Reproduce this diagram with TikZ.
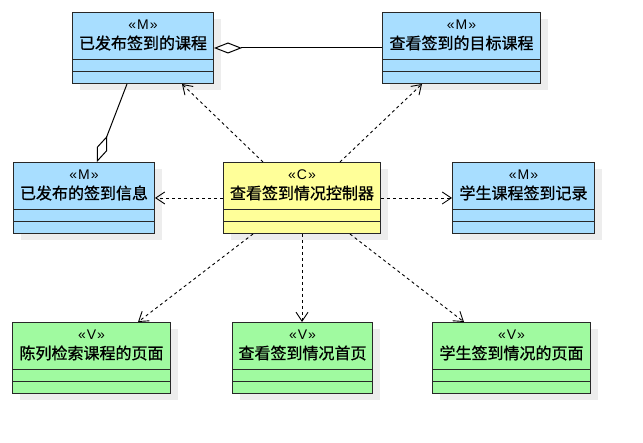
\documentclass[tikz,border=0pt]{standalone}
\usepackage{fontspec}
\newfontfamily\cjk[BoldFont=Noto Sans CJK SC, BoldFeatures={FakeBold=0.9}]{Noto Sans CJK SC}
\newfontfamily\lat{Liberation Sans}
\usetikzlibrary{arrows.meta,shadows,calc}
\definecolor{mblue}{RGB}{168,222,255}
\definecolor{cyellow}{RGB}{255,255,153}
\definecolor{vgreen}{RGB}{160,250,160}
\definecolor{edge}{RGB}{40,40,40}
\tikzset{
  cls/.style={draw=edge, line width=1pt, anchor=north west, minimum height=71pt, inner sep=0pt,
    drop shadow={shadow xshift=7pt, shadow yshift=-7pt, fill=black, opacity=0.07}},
  stereo/.style={font=\lat\fontsize{14}{16}\selectfont, inner sep=0pt},
  cname/.style={font=\cjk\bfseries\fontsize{16}{18}\selectfont, inner sep=0pt},
  divider/.style={draw=edge, line width=1pt},
  dep/.style={draw=black, line width=0.9pt, dash pattern=on 3pt off 3pt, -{Straight Barb[length=9pt,width=12pt]}},
  aggr/.style={draw=black, line width=1pt, -{Diamond[open,length=28pt,width=11pt,fill=white]}}
}
\newcommand{\umlcls}[7]{%
  \node[cls, fill=#5, minimum width=#4pt] (#1) at (#2,#3) {};
  \node[stereo] at ([yshift=-13pt]#1.north) {«\kern1pt#6\kern1pt»};
  \node[cname] at ([yshift=-31pt]#1.north) {#7};
  \draw[divider] ([yshift=-48pt]#1.north west) -- ([yshift=-48pt]#1.north east);
  \draw[divider] ([yshift=-60pt]#1.north west) -- ([yshift=-60pt]#1.north east);
}
\begin{document}
\begin{tikzpicture}[x=1pt,y=-1pt]
\useasboundingbox[fill=white] (0,0) rectangle (643,443);
\umlcls{b1}{72}{12}{141}{mblue}{M}{已发布签到的课程}
\umlcls{b2}{382}{12}{158}{mblue}{M}{查看签到的目标课程}
\umlcls{b3}{13}{162}{141}{mblue}{M}{已发布的签到信息}
\umlcls{c}{223}{162}{157}{cyellow}{C}{查看签到情况控制器}
\umlcls{b4}{452}{162}{142}{mblue}{M}{学生课程签到记录}
\umlcls{v1}{12}{322}{158}{vgreen}{V}{陈列检索课程的页面}
\umlcls{v2}{232}{322}{140}{vgreen}{V}{查看签到情况首页}
\umlcls{v3}{432}{322}{158}{vgreen}{V}{学生签到情况的页面}
% aggregations
\draw[aggr] (b2.west) -- (b1.east);
\draw[aggr] ([xshift=55pt]b1.south west) -- ([xshift=84pt]b3.north west);
% dependencies
\draw[dep] ([xshift=40pt]c.north west) -- ([xshift=110pt]b1.south west);
\draw[dep] ([xshift=117pt]c.north west) -- ([xshift=40pt]b2.south west);
\draw[dep] (c.west) -- (b3.east);
\draw[dep] (c.east) -- (b4.west);
\draw[dep] ([xshift=30pt]c.south west) -- ([xshift=126pt]v1.north west);
\draw[dep] ([xshift=79pt]c.south west) -- ([xshift=70pt]v2.north west);
\draw[dep] ([xshift=127pt]c.south west) -- ([xshift=32pt]v3.north west);
\end{tikzpicture}
\end{document}
